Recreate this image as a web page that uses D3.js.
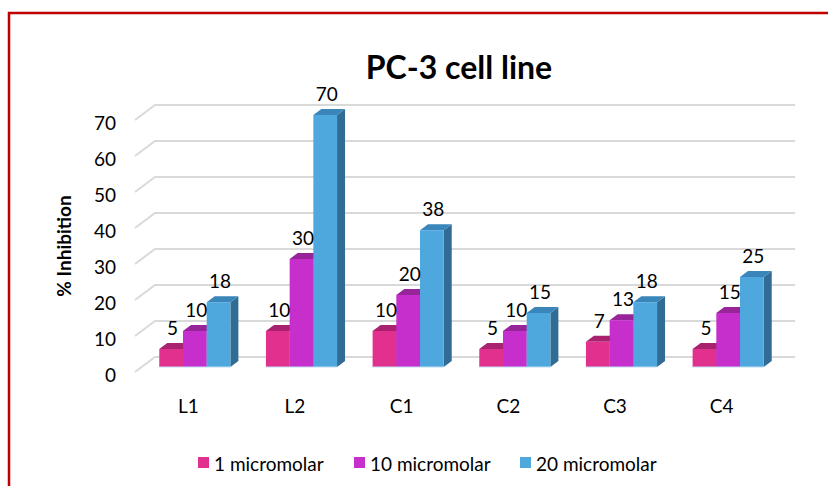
<!DOCTYPE html>
<html>
<head>
<meta charset="utf-8">
<script src="https://cdn.jsdelivr.net/npm/d3@7"></script>
<style>
  html, body { margin: 0; padding: 0; background: #fff; }
  svg { display: block; font-family: Lato, "Open Sans", sans-serif; }
</style>
</head>
<body>
<svg id="chart" width="828" height="486"></svg>
<script>
const categories = ["L1", "L2", "C1", "C2", "C3", "C4"];
const seriesNames = ["1 micromolar", "10 micromolar", "20 micromolar"];
const values1 = [5, 10, 10, 5, 7, 5];
const values10 = [10, 30, 20, 10, 13, 15];
const values20 = [18, 70, 38, 15, 18, 25];
const yTicks = [0, 10, 20, 30, 40, 50, 60, 70];
const title = "PC-3 cell line";
const yTitle = "% Inhibition";

const seriesValues = [values1, values10, values20];
const frontColors = ["#E2308E", "#C62FCC", "#4EA7DD"];
const topColors = ["#A82270", "#98249A", "#3A86BA"];
const sideColors = ["#8E1C5E", "#7F1F82", "#306C93"];

const svg = d3.select("#chart");

// red frame
svg.append("line").attr("x1", 8).attr("x2", 828).attr("y1", 13).attr("y2", 13)
  .attr("stroke", "#C00000").attr("stroke-width", 2.5);
svg.append("line").attr("x1", 9).attr("x2", 9).attr("y1", 12).attr("y2", 486)
  .attr("stroke", "#C00000").attr("stroke-width", 2.5);

// scales (front plane)
const y = d3.scaleLinear().domain([0, 70]).range([372, 120]);
const x = d3.scaleBand().domain(categories).range([135, 775]).paddingInner(1/3).paddingOuter(1/6);
const xs = d3.scaleBand().domain(seriesNames).range([0, x.bandwidth()]);

const wallDx = 20, wallDy = -15;   // full depth of the plot box
const barDx = 6.5, barDy = -5;     // bar front plane offset
const depthDx = 8, depthDy = -6;   // bar thickness

// gridlines on back wall + side wall diagonals
const grid = svg.append("g");
yTicks.forEach(t => {
  const yf = y(t);
  grid.append("polyline")
    .attr("points", `${135},${yf} ${135 + wallDx},${yf + wallDy} ${795},${yf + wallDy}`)
    .attr("fill", "none").attr("stroke", "#D9D9D9").attr("stroke-width", 2);
});

// y axis labels
const yAxis = d3.axisLeft(y).tickValues(yTicks).tickSize(0).tickPadding(0);
const ya = svg.append("g").attr("transform", "translate(116,3)").call(yAxis);
ya.select(".domain").remove();
ya.selectAll("text").attr("font-family", "Lato, sans-serif").attr("font-size", 19).attr("fill", "#000");

// category labels
const xAxis = d3.axisBottom(x).tickSize(0).tickPadding(0);
const xa = svg.append("g").attr("transform", "translate(0,399)").call(xAxis);
xa.select(".domain").remove();
xa.selectAll("text").attr("font-family", "Lato, sans-serif").attr("font-size", 19).attr("fill", "#000");

// bars
const bars = svg.append("g");
categories.forEach((c, ci) => {
  seriesNames.forEach((s, si) => {
    const v = seriesValues[si][ci];
    const x0 = x(c) + xs(s) + barDx;
    const w = xs.bandwidth();
    const yb = y(0) + barDy;
    const yt = y(v) + barDy;
    bars.append("path")
      .attr("d", `M${x0 + w},${yt} L${x0 + w + depthDx},${yt + depthDy} L${x0 + w + depthDx},${yb + depthDy} L${x0 + w},${yb} Z`)
      .attr("fill", sideColors[si]);
    bars.append("path")
      .attr("d", `M${x0},${yt} L${x0 + depthDx},${yt + depthDy} L${x0 + w + depthDx},${yt + depthDy} L${x0 + w},${yt} Z`)
      .attr("fill", topColors[si]);
    bars.append("rect")
      .attr("x", x0).attr("y", yt).attr("width", w).attr("height", yb - yt)
      .attr("fill", frontColors[si]);
    bars.append("line")
      .attr("x1", x0).attr("x2", x0 + w).attr("y1", yb).attr("y2", yb)
      .attr("stroke", "#BFDDF2").attr("stroke-width", 1);
  });
  seriesNames.forEach((s, si) => {
    const v = seriesValues[si][ci];
    const x0 = x(c) + xs(s) + barDx;
    const w = xs.bandwidth();
    bars.append("text")
      .attr("x", x0 + w / 2 + 1.5)
      .attr("y", y(v) + barDy + depthDy - 8)
      .attr("text-anchor", "middle")
      .attr("font-size", 19)
      .attr("fill", "#000")
      .text(v);
  });
});

// title
svg.append("text").attr("x", 459).attr("y", 79).attr("text-anchor", "middle")
  .attr("font-size", 32).attr("font-weight", "bold").attr("fill", "#000").text(title);

// y title
svg.append("text").attr("transform", "translate(71,246) rotate(-90)")
  .attr("text-anchor", "middle").attr("font-size", 19).attr("font-weight", "bold")
  .attr("fill", "#000").text(yTitle);

// legend
const legendX = [198, 354, 520];
const lg = svg.append("g");
seriesNames.forEach((s, i) => {
  lg.append("rect").attr("x", legendX[i]).attr("y", 457).attr("width", 11).attr("height", 11)
    .attr("fill", frontColors[i]);
  lg.append("text").attr("x", legendX[i] + 16).attr("y", 463).attr("dominant-baseline", "central")
    .attr("font-size", 19).attr("fill", "#000").text(s);
});
</script>
</body>
</html>
